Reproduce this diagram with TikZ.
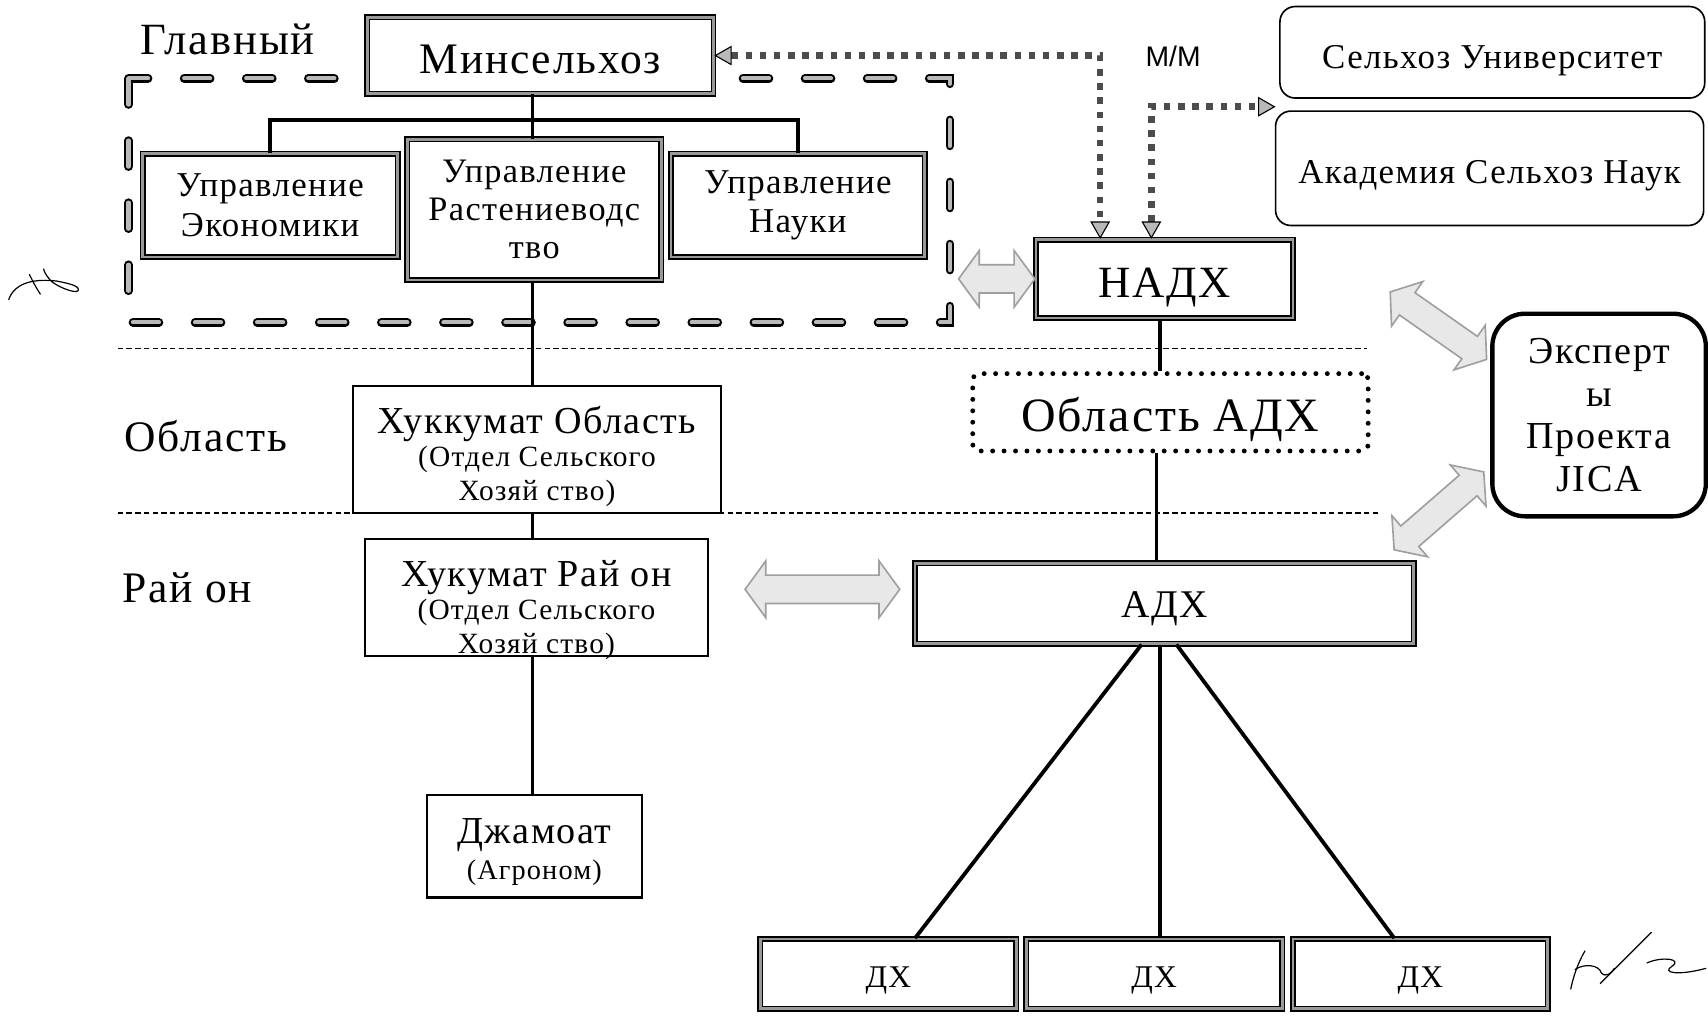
\documentclass[tikz,border=0pt]{standalone}
\usepackage{fontspec}
\setmainfont[LetterSpace=4]{Liberation Serif}
\newfontfamily\mmfont{Liberation Sans}
\usetikzlibrary{arrows.meta}
\newcommand{\blockarr}[5]{%
  \begin{scope}[shift={(#1,#2)}, rotate=#3]
    \draw[blk] ({-#4/2},0) -- ({-#4/2+19},{#5/2}) -- ({-#4/2+19},{#5/4}) -- ({#4/2-19},{#5/4}) -- ({#4/2-19},{#5/2}) -- ({#4/2},0) -- ({#4/2-19},{-#5/2}) -- ({#4/2-19},{-#5/4}) -- ({-#4/2+19},{-#5/4}) -- ({-#4/2+19},{-#5/2}) -- cycle;
  \end{scope}}
\begin{document}
\begin{tikzpicture}[x=1pt,y=-1pt,
  thickbox/.style={draw=black, line width=1.4pt, double=gray!80, double distance=2.6pt, fill=white, inner sep=0pt, align=center},
  thinbox/.style={draw=black, line width=2pt, fill=white, inner sep=0pt, align=center},
  roundbox/.style={draw=black, line width=1.5pt, rounded corners=14pt, fill=white, inner sep=0pt, align=center},
  dotbox/.style={draw=black, line width=4.5pt, dash pattern=on 0pt off 10.5pt, line cap=round, rounded corners=6pt, fill=white, inner sep=0pt},
  gdash/.style={draw=black, line width=2pt, double=gray!55, double distance=3.8pt, dash pattern=on 24pt off 33pt, line cap=round},
  lvl/.style={draw=black, line width=1.3pt, dash pattern=on 5pt off 3pt},
  link/.style={draw=black, line width=3pt},
  dotarrow/.style={draw=black!70, line width=6pt, dash pattern=on 6pt off 7pt, >={Triangle[length=16pt,width=18pt,fill=gray!55,color=black,line width=1pt]}, <->},
  blk/.style={draw=gray!75, line width=1.5pt, fill=gray!18, line join=miter},
  txt/.style={inner sep=0pt, align=center},
  sig/.style={draw=black, line width=1.1pt, line cap=round}
]
\useasboundingbox (0,0) rectangle (1568,933);
\fill[white] (0,0) rectangle (1568,933);

% big dashed frame and level separators
\draw[gdash] (118,72) rectangle (872,296);
\draw[lvl] (108,320) -- (1255,320);
\draw[lvl] (108,471) -- (1265,471);

% level labels
\node[txt, font=\fontsize{41}{43}\selectfont] (lglav) at (209,36) {Главный};
\node[txt, font=\fontsize{40}{42}\selectfont] (lobl) at (189,400) {Область};
\node[txt, font=\fontsize{40}{42}\selectfont] (lray) at (172,540) {Рай он};

% left column
\node[thickbox, minimum width=318pt, minimum height=70pt, text height=42.4pt, text depth=10pt, font=\fontsize{40}{42}\selectfont] (minsel) at (496,51) {Минсельхоз};
\node[thickbox, minimum width=234pt, minimum height=95pt, font=\fontsize{32}{36}\selectfont] (econ) at (248,188.5) {Управление\\Экономики};
\node[thickbox, minimum width=233pt, minimum height=129pt, font=\fontsize{31.5}{35}\selectfont] (rast) at (490.5,192.5) {Управление\\Растениеводс\\тво};
\node[thickbox, minimum width=233pt, minimum height=95pt, font=\fontsize{32}{36}\selectfont] (nauk) at (732.5,188.5) {Управление\\Науки};

\node[thinbox, minimum width=338pt, minimum height=117pt] (hukObl) at (493,412.5) {};
\node[txt, font=\fontsize{27}{31}\selectfont] (hukOblT) at (493,419) {{\fontsize{35}{37}\selectfont Хуккумат Область}\\(Отдел Сельского\\Хозяй ство)};
\node[thinbox, minimum width=315pt, minimum height=107pt] (hukRay) at (492.5,548.5) {};
\node[txt, font=\fontsize{27}{31}\selectfont] (hukRayT) at (492.5,560) {{\fontsize{35}{37}\selectfont Хукумат Рай он}\\(Отдел Сельского\\Хозяй ство)};
\node[thinbox, minimum width=197pt, minimum height=94pt] (jam) at (490.5,777) {};
\node[txt, font=\fontsize{26}{33}\selectfont] (jamT) at (490.5,782) {{\fontsize{35}{37}\selectfont Джамоат}\\(Агроном)};

% right column
\node[thickbox, minimum width=236pt, minimum height=72pt, text height=44.3pt, text depth=10.3pt, font=\fontsize{41}{43}\selectfont] (nadx) at (1069,256) {НАДХ};
\node[dotbox, minimum width=363pt, minimum height=71pt, text height=47pt, text depth=11pt, font=\fontsize{44}{46}\selectfont] (oblAdx) at (1074.5,378.5) {Область АДХ};
\node[thickbox, minimum width=458pt, minimum height=74pt, text height=34.8pt, text depth=9pt, font=\fontsize{36}{38}\selectfont] (adx) at (1069,554) {АДХ};
\node[thickbox, minimum width=235pt, minimum height=64pt, text height=32.4pt, text depth=7.3pt, font=\fontsize{29}{31}\selectfont] (dx1) at (815.5,894) {ДХ};
\node[thickbox, minimum width=235pt, minimum height=64pt, text height=32.4pt, text depth=7.3pt, font=\fontsize{29}{31}\selectfont] (dx2) at (1059.5,894) {ДХ};
\node[thickbox, minimum width=234pt, minimum height=64pt, text height=32.4pt, text depth=7.3pt, font=\fontsize{29}{31}\selectfont] (dx3) at (1304,894) {ДХ};

\node[roundbox, minimum width=390pt, minimum height=84pt, text height=37.1pt, text depth=8pt, font=\fontsize{32}{34}\selectfont] (selUni) at (1370,48) {Сельхоз Университет};
\node[roundbox, minimum width=393pt, minimum height=105pt, text height=36.1pt, text depth=8pt, font=\fontsize{32}{34}\selectfont] (akad) at (1367.5,154.5) {Академия Сельхоз Наук};
\node[roundbox, line width=4pt, rounded corners=30pt, minimum width=196pt, minimum height=186pt, font=\fontsize{35}{39}\selectfont] (jica) at (1468,381) {Эксперт\\ы\\Проекта\\JICA};

\node[txt, font=\mmfont\fontsize{26}{28}\selectfont] (mm) at (1077,52) {M/M};

% tree connectors
\coordinate (bar) at (489,110);
\draw[link] (minsel.south -| bar) -- (bar);
\draw[link, line width=4pt] (econ.north) |- (bar) -| (nauk.north);
\draw[link] (bar) -- (bar |- rast.north);
\draw[link] (rast.south -| bar) -- (bar |- hukObl.north);
\draw[link] (hukObl.south -| bar) -- (bar |- hukRay.north);
\draw[link] (hukRay.south -| bar) -- (bar |- jam.north);

\draw[link] ([xshift=-4pt]nadx.south) -- ([xshift=-4pt]nadx.south |- oblAdx.north);
\draw[link] ([xshift=-12.5pt]oblAdx.south) -- ([xshift=-12.5pt]oblAdx.south |- adx.north);
\draw[link, line width=3.5pt] ([xshift=-21pt]adx.south) -- ([xshift=24.5pt]dx1.north);
\draw[link] ([xshift=-4pt]adx.south) -- ([xshift=5.5pt]dx2.north);
\draw[link, line width=3.5pt] ([xshift=11pt]adx.south) -- ([xshift=-24pt]dx3.north);

% dotted arrows
\coordinate (gapT) at (1171,98);
\draw[dotarrow] (minsel.east) -| ([xshift=-59pt]nadx.north);
\draw[dotarrow] ([xshift=-12pt]nadx.north) |- (gapT);

% block double arrows
\blockarr{915}{256}{0}{70}{52}
\blockarr{755}{541}{0}{142}{52}
\blockarr{1320.5}{299}{-35}{108}{50}
\blockarr{1321}{469}{41}{109}{50}

% signatures
\draw[sig] (8,275) .. controls (14,258) and (34,256) .. (52,258) .. controls (62,260) and (72,262) .. (72,266) .. controls (72,270) and (58,266) .. (48,259) .. controls (44,255) and (41,251) .. (40,247);
\draw[sig] (27,252) .. controls (30,258) and (33,264) .. (37,270);
\draw[sig] (1455,873) .. controls (1448,885) and (1444,898) .. (1442,908);
\draw[sig] (1446,890) .. controls (1455,884) and (1468,886) .. (1470,893) .. controls (1474,898) and (1480,893) .. (1482,889);
\draw[sig] (1469,903) -- (1516,856);
\draw[sig] (1512,884) .. controls (1525,878) and (1545,880) .. (1535,887) .. controls (1525,893) and (1540,896) .. (1566,889);
\end{tikzpicture}
\end{document}
